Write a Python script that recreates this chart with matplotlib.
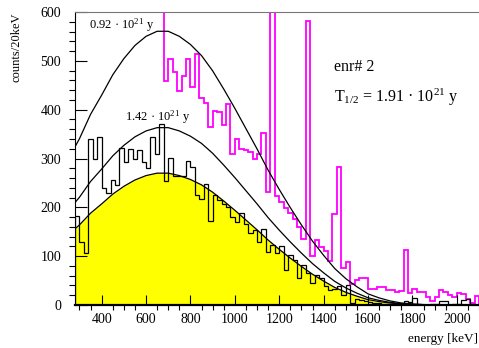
import numpy as np
import matplotlib.pyplot as plt

plt.rcParams['font.family'] = ['Liberation Serif', 'DejaVu Serif']
plt.rcParams['mathtext.fontset'] = 'custom'
plt.rcParams['mathtext.rm'] = 'Liberation Serif'
plt.rcParams['mathtext.it'] = 'Liberation Serif:italic'

# histogram binning (keV)
e_start, e_stop, bin_w = 280, 2100, 20

# black spectrum, counts per 20 keV bin from 280 keV
black_counts = [182, 130, 106, 340, 300, 345, 239, 229, 255, 245,
                321, 292, 319, 300, 318, 292, 280, 345, 310, 371,
                253, 302, 264, 265, 265, 295, 282, 226, 218, 248,
                172, 226, 215, 206, 201, 180, 170, 188, 165, 148,
                153, 130, 155, 109, 123, 106, 120, 72, 102, 92,
                55, 82, 66, 46, 62, 56, 38, 30, 33, 38,
                20, 40, 5, 12, 10, 8, 6, 5, 4, 2,
                3, 1, 2, 1, 8, 7, 15, 2, 1, 0,
                2, 2, 9, 8, 1, 2, 3, 10, 12, 3,
                1]

# magenta spectrum (off scale below 680 keV)
magenta_counts = [2400, 2300, 2200, 2100, 2000, 1900, 1800, 1700, 1600, 1500,
                  1400, 1300, 1200, 1100, 1000, 950, 900, 850, 800, 750,
                  459, 503, 478, 439, 469, 503, 447, 514, 423, 413,
                  365, 398, 396, 369, 411, 310, 339, 320, 318, 314,
                  300, 310, 353, 232, 900, 224, 211, 198, 188, 176,
                  160, 135, 582, 100, 133, 119, 110, 90, 186, 282,
                  75, 89, 44, 51, 55, 55, 32, 32, 36, 36,
                  31, 30, 27, 28, 113, 24, 32, 26, 27, 17,
                  9, 16, 30, 26, 20, 17, 25, 22, 13, 5,
                  18]

# fitted 2nu spectrum (yellow)
curve_e = [280, 300, 350, 400, 450, 500, 550, 600, 650, 700, 750, 800,
           850, 900, 950, 1000, 1050, 1100, 1150, 1200, 1250, 1300, 1350,
           1400, 1450, 1500, 1550, 1600, 1650, 1700, 1750, 1800, 1850,
           1900, 1950, 2000, 2039]
curve_fit = [156, 164, 188, 207, 227, 243, 256, 265, 270, 270, 265, 257,
             246, 231, 213, 194, 174, 154, 133, 114, 96, 79, 63,
             49, 36, 26, 18, 11, 7, 4, 2, 1, 0.4,
             0.1, 0, 0, 0]

t_fit = 1.91
t_lines = [1.42, 0.92]

edges = np.arange(e_start, e_stop + 1, bin_w)
curve_fit = np.array(curve_fit)

fig = plt.figure(figsize=(4.79, 3.48), dpi=100)
ax = fig.add_axes([75 / 479, 43 / 348, 404 / 479, 293 / 348])

ax.fill_between(curve_e, curve_fit, color='#ffff00', lw=0)
ax.stairs(magenta_counts, edges, color='#ff00ff', lw=1.3)
ax.stairs(black_counts, edges, color='black', lw=0.9)
ax.plot(curve_e, curve_fit, color='black', lw=0.9)
for t in t_lines:
    ax.plot(curve_e, curve_fit * t_fit / t, color='black', lw=0.9)

ax.text(343, 565, '0.92 · 10$^{21}$ y', fontsize=9)
ax.text(505, 377, '1.42 · 10$^{21}$ y', fontsize=9)
ax.text(1447, 480, 'enr# 2', fontsize=11.5)
ax.text(1447, 416, 'T$_{1/2}$ = 1.91 · 10$^{21}$ y', fontsize=11.5)

ax.set_xlim(e_start, e_stop)
ax.set_ylim(0, 600)
ax.set_xticks(np.arange(400, 2001, 200))
ax.set_xticks(np.arange(300, 2101, 50), minor=True)
ax.set_yticks(np.arange(0, 601, 100))
ax.set_yticks(np.arange(0, 601, 20), minor=True)
ax.tick_params(axis='both', direction='in', labelsize=10)
ax.tick_params(axis='x', which='major', length=7, width=0.8, pad=5.5)
ax.tick_params(axis='x', which='minor', length=3.6, width=0.8)
ax.tick_params(axis='y', which='major', length=8.5, width=0.8, pad=10)
ax.tick_params(axis='y', which='minor', length=4.3, width=0.8)

ax.spines['right'].set_visible(False)
ax.spines['top'].set_color('#777777')
ax.spines['bottom'].set_linewidth(1.6)

fig.text(17 / 479, 1 - 13 / 348, 'counts/20keV', rotation=90,
         ha='center', va='top', fontsize=9)
fig.text(0.998, 1 - 339 / 348, 'energy [keV]', ha='right', va='center',
         fontsize=9.5)

fig.savefig('out.png', dpi=100)
